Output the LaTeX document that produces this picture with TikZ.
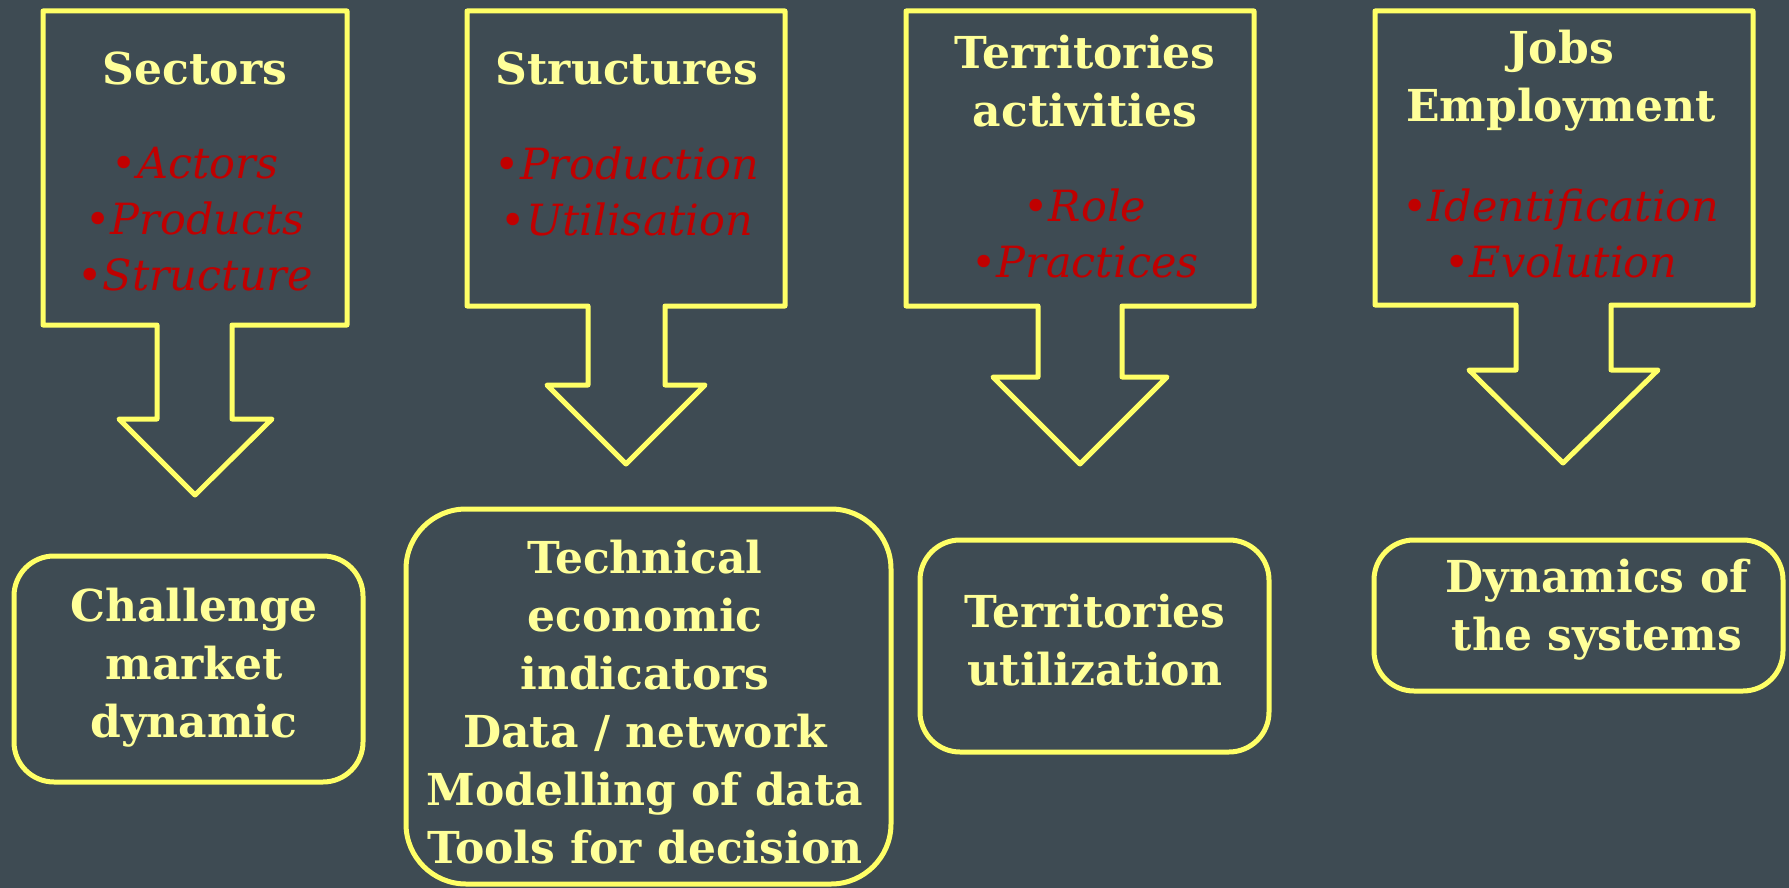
\documentclass[tikz,border=0pt]{standalone}
\usepackage{fontspec}
\setmainfont{DejaVu Serif}

\definecolor{slate}{RGB}{62,75,83}
\definecolor{lineyellow}{RGB}{255,255,102}
\definecolor{textyellow}{RGB}{255,255,153}
\definecolor{itemred}{RGB}{192,0,0}

\tikzset{
  frame/.style={draw=lineyellow, line width=2.5pt, line join=round},
  heading/.style={font=\fontsize{22}{29}\selectfont\bfseries, text=textyellow, align=center, inner sep=0pt},
  items/.style={font=\fontsize{21.5}{28}\selectfont\itshape, text=itemred, align=center, inner sep=0pt},
}

\begin{document}
\begin{tikzpicture}[x=0.5pt,y=-0.5pt]
\fill[slate] (0,0) rectangle (1789,888);
\useasboundingbox (0,0) rectangle (1789,888);

% Arrow callouts
\draw[frame] (43,11) -- (347,11) -- (347,325) -- (232,325) -- (232,419) -- (272,419)
  -- (195,495) -- (119,419) -- (157,419) -- (157,325) -- (43,325) -- cycle;
\draw[frame] (467,11) -- (785,11) -- (785,306) -- (665,306) -- (665,385) -- (705,385)
  -- (626,464) -- (547,385) -- (588,385) -- (588,306) -- (467,306) -- cycle;
\draw[frame] (906,11) -- (1254,11) -- (1254,306) -- (1122,306) -- (1122,377) -- (1167,377)
  -- (1080,464) -- (993,377) -- (1038,377) -- (1038,306) -- (906,306) -- cycle;
\draw[frame] (1375,11) -- (1753,11) -- (1753,305) -- (1611,305) -- (1611,370) -- (1658,370)
  -- (1563,463) -- (1469,370) -- (1516,370) -- (1516,305) -- (1375,305) -- cycle;

% Headings
\node[heading] (sectors) at (195,68) {Sectors};
\node[heading] (structures) at (627,68) {Structures};
\node[heading] (territories) at (1085,81) {Territories\\activities};
\node[heading] (jobs) at (1561,81) {Jobs\\Employment};

% Items
\node[items] (sectorsitems) at (195,219) {•Actors\\•Products\\•Structure};
\node[items] (structuresitems) at (627,191) {•Production\\•Utilisation};
\node[items] (territoriesitems) at (1085,233) {•Role\\•Practices};
\node[items] (jobsitems) at (1561,233) {•Identification\\•Evolution};

% Results
\draw[frame, rounded corners=20pt] (14,556) rectangle (363,782);
\draw[frame, rounded corners=30pt] (406,509) rectangle (891,884);
\draw[frame, rounded corners=20pt] (920,540) rectangle (1269,752);
\draw[frame, rounded corners=20pt] (1374,540) rectangle (1783,691);

\node[heading] (challenge) at (194,668) {Challenge\\market\\dynamic};
\node[heading] (indicators) at (645,702) {Technical\\economic\\indicators\\Data / network\\Modelling of data\\Tools for decision};
\node[heading] (utilization) at (1095,640) {Territories\\utilization};
\node[heading] (dynamics) at (1597,610) {Dynamics of\\the systems};
\end{tikzpicture}
\end{document}
